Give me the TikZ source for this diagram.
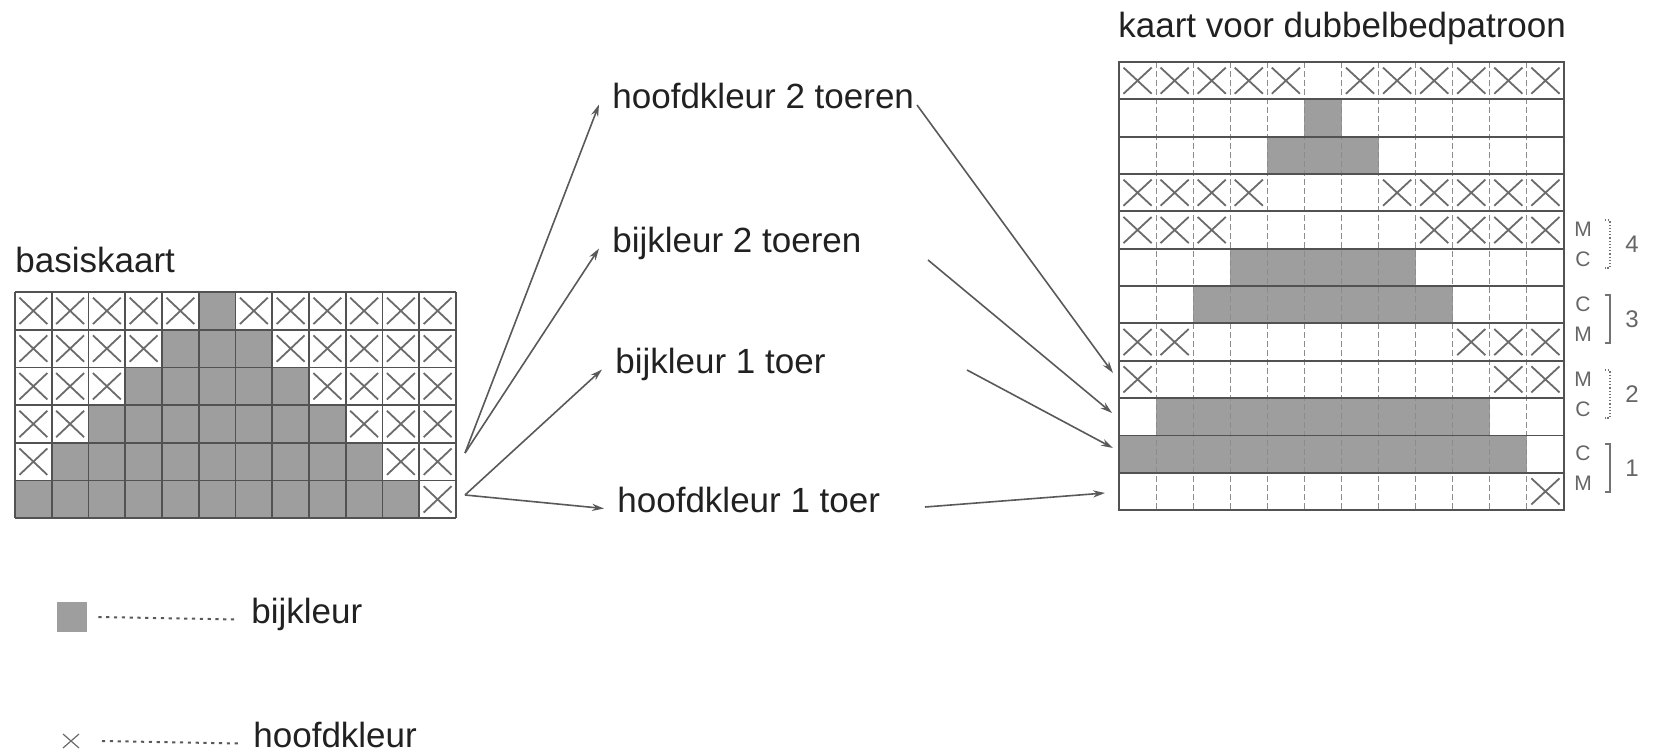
\documentclass[tikz,border=0pt]{standalone}
\usepackage{fontspec}
\setmainfont{Liberation Sans}
\usetikzlibrary{arrows.meta}

\definecolor{inkt}{gray}{0.13}
\definecolor{lijngrijs}{gray}{0.32}
\definecolor{vlak}{gray}{0.62}
\definecolor{kruisgrijs}{gray}{0.42}

\tikzset{
  bij/.style={fill=vlak},
  kruis/.style={draw=kruisgrijs, line width=0.9pt},
  lijn/.style={draw=lijngrijs, line width=0.9pt},
  stippellijn/.style={draw=black!45, line width=0.5pt, dash pattern=on 3pt off 1.5pt},
  stippel/.style={draw=black!65, line width=1pt, dash pattern=on 1.6pt off 2.3pt},
  tekst/.style={font=\fontsize{17.5}{21}\selectfont, text=inkt, inner sep=0pt, anchor=base west},
  toer/.style={tekst, inner xsep=6.5pt, text height=0.55em, text depth=0.2em},
  pijl/.style={draw=black!65, line width=0.8pt, -{Stealth[length=6pt,width=3.6pt]}},
  rij/.style={font=\fontsize{10.5}{12}\selectfont, text=black!60, inner sep=0pt},
  haak/.style={draw=black!55, line width=0.6pt},
}

\begin{document}
\begin{tikzpicture}[x=0.5pt, y=-0.5pt]
  \useasboundingbox (0,0) rectangle (1658,755);

  \node[tekst] (basis) at (15,272) {basiskaart};
  \node[tekst] (dubbel) at (1118,37) {kaart voor dubbelbedpatroon};

  \begin{scope}[xshift=7.5pt, yshift=-146pt, x=18.375pt, y=-18.85pt]
    \foreach \r in {1,...,6} {
      \foreach \c in {1,...,12} {
        \pgfmathtruncatemacro\binnen{and(\c>=(7-\r),\c<=(5+\r))}
        \ifnum\binnen=1
          \fill[bij] (\c-1,\r-1) rectangle (\c,\r);
        \else
          \draw[kruis] (\c-0.88,\r-0.85) -- (\c-0.12,\r-0.15) (\c-0.88,\r-0.15) -- (\c-0.12,\r-0.85);
        \fi
      }
    }
    \foreach \c in {0,...,12} \draw[lijn] (\c,0) -- (\c,6);
    \foreach \r in {0,...,6} \draw[lijn] (0,\r) -- (12,\r);
  \end{scope}

  \begin{scope}[xshift=559.5pt, yshift=-31pt, x=18.54pt, y=-18.67pt]
    \foreach \r/\soort/\k in {1/0/1, 2/1/1, 3/1/2, 4/0/2, 5/0/3, 6/1/3,
                              7/1/4, 8/0/4, 9/0/5, 10/1/5, 11/1/6, 12/0/6} {
      \foreach \c in {1,...,12} {
        \pgfmathtruncatemacro\binnen{and(\c>=(7-\k),\c<=(5+\k))}
        \ifnum\binnen=\soort
          \ifnum\soort=1
            \fill[bij] (\c-1,\r-1) rectangle (\c,\r);
          \else
            \draw[kruis] (\c-0.88,\r-0.85) -- (\c-0.12,\r-0.15) (\c-0.88,\r-0.15) -- (\c-0.12,\r-0.85);
          \fi
        \fi
      }
    }
    \foreach \c in {1,...,11} \draw[stippellijn] (\c,0) -- (\c,12);
    \foreach \r in {1,...,11} \draw[lijn] (0,\r) -- (12,\r);
    \draw[lijn] (0,0) rectangle (12,12);
  \end{scope}

  \foreach \n/\ym/\boven/\onder/\soort in {4/244/M/C/densely dotted, 3/319/C/M/solid,
                                           2/394/M/C/densely dotted, 1/468/C/M/solid} {
    \node[rij] (boven-\n) at (1583,\ym-15) {\boven};
    \node[rij] (onder-\n) at (1583,\ym+15) {\onder};
    \draw[haak, \soort] (1605,\ym-24) -- (1610,\ym-24) -- (1610,\ym+24) -- (1605,\ym+24);
    \node[rij, font=\fontsize{12}{14}\selectfont] (nr-\n) at (1632,\ym) {\n};
  }

  \node[toer] (h2) at (599,108) {hoofdkleur 2 toeren};
  \node[toer] (b2) at (599,252) {bijkleur 2 toeren};
  \node[toer] (b1) at (602,373) {bijkleur 1 toer};
  \node[toer] (h1) at (604,512) {hoofdkleur 1 toer};

  \coordinate (bron1) at (465,453);
  \coordinate (bron2) at (465,495);
  \draw[pijl] (bron1) -- (h2.west);
  \draw[pijl] (bron1) -- (b2.west);
  \draw[pijl] (bron2) -- (b1.west);
  \draw[pijl] (bron2) -- (h1.west);

  \coordinate (uit-h2) at (917,105);
  \coordinate (uit-b2) at (928,260);
  \coordinate (uit-b1) at (967,370);
  \coordinate (uit-h1) at (925,507);
  \coordinate (in-h2) at (1113,373);
  \coordinate (in-b2) at (1112,413);
  \coordinate (in-b1) at (1113,448);
  \coordinate (in-h1) at (1105,493);
  \draw[pijl] (uit-h2) -- (in-h2);
  \draw[pijl] (uit-b2) -- (in-b2);
  \draw[pijl] (uit-b1) -- (in-b1);
  \draw[pijl] (uit-h1) -- (in-h1);

  \node[bij, minimum size=15pt, inner sep=0pt] (vak) at (72,617) {};
  \node[toer] (leg-bij) at (238,623) {bijkleur};
  \draw[stippel] ([xshift=5.5pt]vak.east) -- (leg-bij.west);

  \coordinate (kruisje) at (71,741);
  \draw[kruis, line width=0.6pt] ([shift={(-8,-7)}]kruisje) -- ([shift={(8,7)}]kruisje)
                                 ([shift={(-8,7)}]kruisje) -- ([shift={(8,-7)}]kruisje);
  \node[toer] (leg-hoofd) at (240,747) {hoofdkleur};
  \draw[stippel] ([xshift=15.5pt]kruisje) -- (leg-hoofd.west);
\end{tikzpicture}
\end{document}
